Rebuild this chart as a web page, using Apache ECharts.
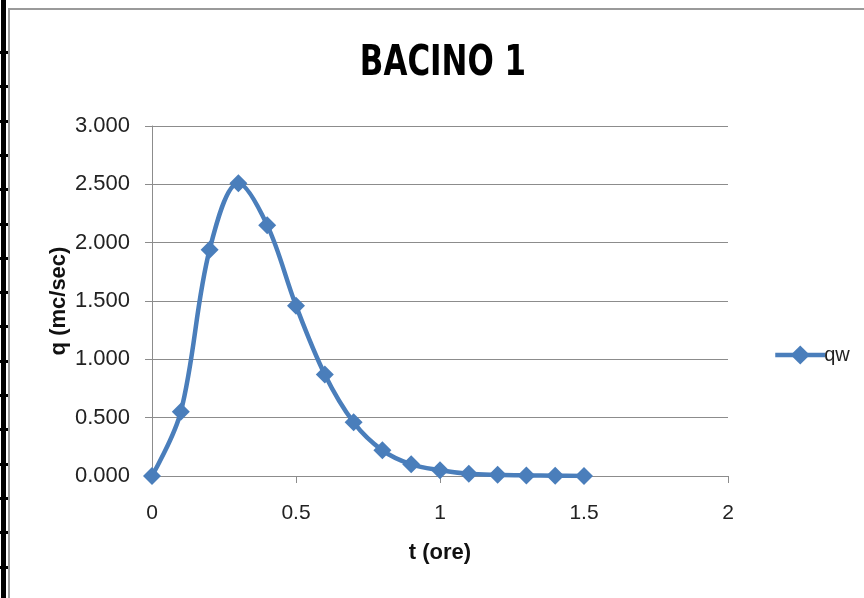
<!DOCTYPE html>
<html>
<head>
<meta charset="utf-8">
<title>BACINO 1</title>
<script src="https://cdn.jsdelivr.net/npm/echarts@6/dist/echarts.min.js"></script>
<style>
  html, body { margin: 0; padding: 0; background: #fff; }
  #chart { width: 864px; height: 598px; }
</style>
</head>
<body>
<div id="chart"></div>
<script>
// Hydrograph of basin 1: discharge q (m³/s) over time t (hours)
const timeHours = [0, 0.1, 0.2, 0.3, 0.4, 0.5, 0.6, 0.7, 0.8, 0.9, 1.0, 1.1, 1.2, 1.3, 1.4, 1.5];
const qw = [0, 0.55, 1.94, 2.51, 2.15, 1.46, 0.87, 0.46, 0.22, 0.10, 0.05, 0.02, 0.01, 0.005, 0.002, 0.001];
const xTicks = [0, 0.5, 1, 1.5, 2];
const yTicks = [0, 0.5, 1, 1.5, 2, 2.5, 3];

const blue = '#4a7ebb';
const gray = '#8c8c8c';
const labelFont = '"Liberation Sans", Arial, sans-serif';
const narrowFont = '"Liberation Sans Narrow", "DejaVu Sans Condensed", "Liberation Sans", sans-serif';

// ruler-like frame down the left edge
const frame = [
  { type: 'rect', shape: { x: 1, y: 0, width: 5, height: 598 }, style: { fill: '#000' } },
  { type: 'rect', shape: { x: 8, y: 8, width: 2, height: 590 }, style: { fill: '#9a9a9a' } },
  { type: 'rect', shape: { x: 8, y: 8, width: 856, height: 2 }, style: { fill: '#9a9a9a' } }
];
for (let y = 51; y < 598; y += 34.3) {
  frame.push({ type: 'rect', shape: { x: 0, y: Math.round(y), width: 8, height: 3 }, style: { fill: '#000' } });
}
// chart title, condensed horizontally
frame.push({
  type: 'text',
  x: 443, y: 64,
  scaleX: 0.8,
  style: {
    text: 'BACINO 1',
    fontFamily: narrowFont, fontWeight: 'bold', fontSize: 43, fill: '#000',
    align: 'center', verticalAlign: 'middle'
  }
});

const chart = echarts.init(document.getElementById('chart'), null, { renderer: 'canvas' });
chart.setOption({
  animation: false,
  backgroundColor: '#fff',
  graphic: frame,
  legend: {
    left: 768,
    top: 340,
    itemWidth: 50,
    itemHeight: 24,
    itemGap: 2,
    data: ['qw'],
    lineStyle: { width: 4.5, color: blue },
    textStyle: { fontFamily: labelFont, fontSize: 20, color: '#222', padding: [0, 0, 0, -6] }
  },
  grid: { left: 152, right: 136, top: 126, bottom: 122, containLabel: false },
  xAxis: {
    type: 'value',
    min: xTicks[0],
    max: xTicks[xTicks.length - 1],
    interval: xTicks[1] - xTicks[0],
    name: 't (ore)',
    nameLocation: 'middle',
    nameGap: 66,
    nameMoveOverlap: false,
    nameTextStyle: { fontFamily: labelFont, fontWeight: 'bold', fontSize: 22, color: '#111' },
    axisLine: { show: true, lineStyle: { color: gray, width: 1 } },
    axisTick: { show: true, inside: false, length: 7, lineStyle: { color: gray } },
    axisLabel: { margin: 27, fontFamily: labelFont, fontSize: 21, color: '#222',
      formatter: v => String(v) },
    splitLine: { show: false }
  },
  yAxis: {
    type: 'value',
    min: yTicks[0],
    max: yTicks[yTicks.length - 1],
    interval: yTicks[1] - yTicks[0],
    name: 'q (mc/sec)',
    nameLocation: 'middle',
    nameRotate: 90,
    nameGap: 82,
    nameMoveOverlap: false,
    nameTextStyle: { fontFamily: labelFont, fontWeight: 'bold', fontSize: 22, color: '#111' },
    axisLine: { show: true, lineStyle: { color: gray, width: 1 } },
    axisTick: { show: true, inside: false, length: 7, lineStyle: { color: gray } },
    axisLabel: { margin: 22, fontFamily: labelFont, fontSize: 22, color: '#222',
      formatter: v => v.toFixed(3) },
    splitLine: { show: true, lineStyle: { color: gray, width: 1 } }
  },
  series: [{
    name: 'qw',
    type: 'line',
    data: timeHours.map((t, i) => [t, qw[i]]),
    smooth: 0.35,
    symbol: 'diamond',
    symbolSize: 18,
    showAllSymbol: true,
    lineStyle: { color: blue, width: 4.5 },
    itemStyle: { color: blue, borderWidth: 0 }
  }]
});
</script>
</body>
</html>
